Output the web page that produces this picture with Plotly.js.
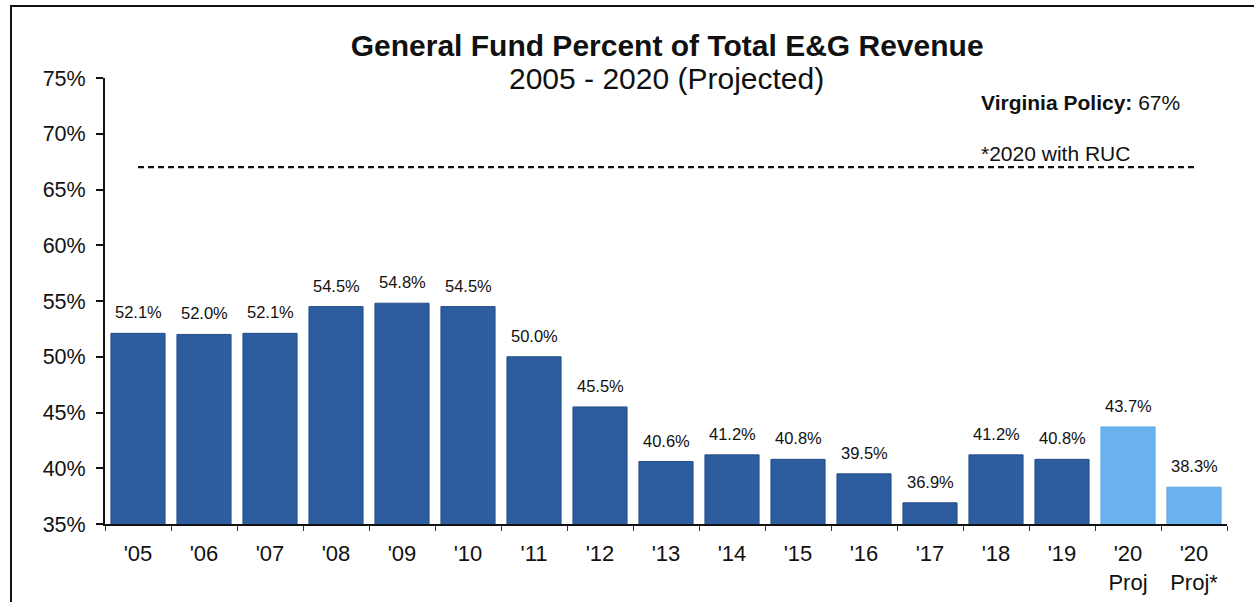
<!DOCTYPE html>
<html>
<head>
<meta charset="utf-8">
<script src="https://cdn.plot.ly/plotly-3.0.1.min.js"></script>
<style>
html,body{margin:0;padding:0;background:#fff;}
#wrap{position:absolute;left:0;top:0;width:1254px;height:602px;}
#frame{position:absolute;left:10px;top:5px;width:1244px;height:597px;border-left:2px solid #111;border-top:2px solid #111;box-sizing:border-box;pointer-events:none;}
#chart{position:absolute;left:0;top:0;width:1254px;height:602px;}
</style>
</head>
<body>
<div id="wrap"><div id="chart"></div><div id="frame"></div></div>
<script>
const categories = ["'05","'06","'07","'08","'09","'10","'11","'12","'13","'14","'15","'16","'17","'18","'19","'20<br>Proj","'20<br>Proj*"];
const actualValues = [52.1,52.0,52.1,54.5,54.8,54.5,50.0,45.5,40.6,41.2,40.8,39.5,36.9,41.2,40.8,null,null];
const projectedValues = [null,null,null,null,null,null,null,null,null,null,null,null,null,null,null,43.7,38.3];
const policyValue = 67;
const yTickValues = [35,40,45,50,55,60,65,70,75];
const yTickLabels = ["35%","40%","45%","50%","55%","60%","65%","70%","75%"];

const FONT = "Liberation Sans, Arial, sans-serif";
const darkBlue = "#2d5d9f";
const lightBlue = "#6ab3ef";

const traces = [
  {type:"bar", x:categories, y:actualValues, marker:{color:darkBlue, line:{color:"#244e88", width:1}}, hoverinfo:"x+y"},
  {type:"bar", x:categories, y:projectedValues, marker:{color:lightBlue, line:{color:"#5aa6e6", width:1}}, hoverinfo:"x+y"},
  {type:"scatter", mode:"lines", x:[categories[0], categories[categories.length-1]], y:[policyValue, policyValue],
   line:{color:"#111", width:2.2, dash:"6px,4px"}, hoverinfo:"skip"}
];

const annotations = [];
categories.forEach((c,i)=>{
  const v = actualValues[i] != null ? actualValues[i] : projectedValues[i];
  if (v == null) return;
  annotations.push({x:c, y:v, xref:"x", yref:"y", text:v.toFixed(1)+"%", showarrow:false,
    yanchor:"bottom", yshift:10, font:{family:FONT, size:16.5, color:"#111"}});
});
annotations.push({xref:"paper", yref:"paper", x:0.779, y:0.944, xanchor:"left", yanchor:"middle",
  text:"<b>Virginia Policy:</b> 67%", showarrow:false, font:{family:FONT, size:21, color:"#111"}});
annotations.push({xref:"paper", yref:"paper", x:0.779, y:0.83, xanchor:"left", yanchor:"middle",
  text:"*2020 with RUC", showarrow:false, font:{family:FONT, size:21, color:"#111"}});
annotations.push({xref:"paper", yref:"paper", x:0.5, y:1.0, xanchor:"center", yanchor:"middle",
  text:"2005 - 2020 (Projected)", showarrow:false, font:{family:FONT, size:30, color:"#111"}});

const layout = {
  width:1254, height:602,
  margin:{l:105, r:27, t:78, b:78},
  paper_bgcolor:"rgba(0,0,0,0)", plot_bgcolor:"rgba(0,0,0,0)",
  showlegend:false,
  barmode:"overlay",
  bargap:0.18,
  title:{text:"<b>General Fund Percent of Total E&G Revenue</b>", x:0.532, xref:"container", xanchor:"center",
    y:0.925, yref:"container", yanchor:"middle", font:{family:FONT, size:30, color:"#111"}},
  xaxis:{type:"category", showline:true, linecolor:"#111", linewidth:2, ticks:"outside", tickson:"boundaries",
    ticklen:5, tickcolor:"#333", tickwidth:1, showgrid:false, zeroline:false,
    tickfont:{family:FONT, size:22, color:"#111"}, ticklabelstandoff:9, fixedrange:true},
  yaxis:{range:[35,75], tickvals:yTickValues, ticktext:yTickLabels, showline:true, linecolor:"#111", linewidth:2,
    ticks:"outside", ticklen:7, tickcolor:"#111", tickwidth:2, showgrid:false, zeroline:false,
    tickfont:{family:FONT, size:21.5, color:"#111"}, ticklabelstandoff:6, fixedrange:true},
  annotations:annotations
};

Plotly.newPlot("chart", traces, layout, {displayModeBar:false, staticPlot:true});
</script>
</body>
</html>
